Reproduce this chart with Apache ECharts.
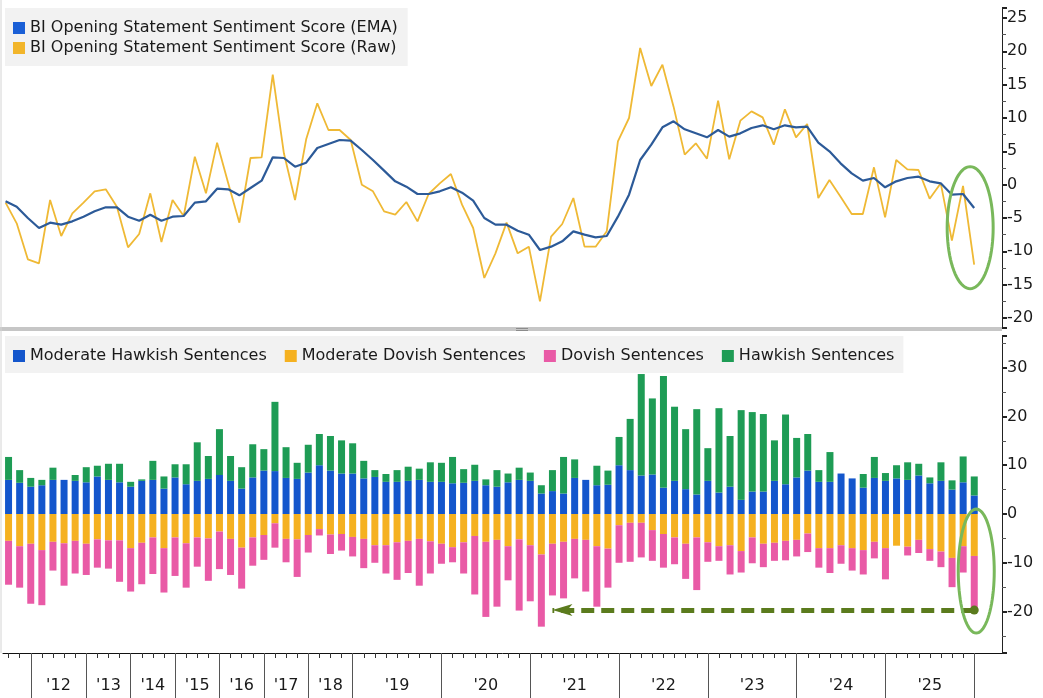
<!DOCTYPE html>
<html>
<head>
<meta charset="utf-8">
<title>BI Opening Statement Sentiment</title>
<script src="https://cdn.jsdelivr.net/npm/echarts@6.0.0/dist/echarts.min.js"></script>
<style>
  html, body { margin: 0; padding: 0; background: #fff; }
  #chart { width: 1043px; height: 698px; }
</style>
</head>
<body>
<div id="chart"></div>
<script>
// one entry per press-conference opening statement
const meetings = [
  '2011-06', '2011-11',
  '2012-01', '2012-04', '2012-06', '2012-09', '2012-12',
  '2013-03', '2013-06', '2013-09', '2013-12',
  '2014-03', '2014-06', '2014-09', '2014-12',
  '2015-03', '2015-06', '2015-09', '2015-12',
  '2016-03', '2016-06', '2016-09', '2016-12',
  '2017-03', '2017-06', '2017-09', '2017-12',
  '2018-03', '2018-06', '2018-09', '2018-12',
  '2019-01', '2019-03', '2019-05', '2019-06', '2019-07', '2019-09', '2019-10', '2019-12',
  '2020-01', '2020-03', '2020-04', '2020-06', '2020-07', '2020-09', '2020-11', '2020-12',
  '2021-01', '2021-03', '2021-04', '2021-06', '2021-07', '2021-09', '2021-11', '2021-12',
  '2022-01', '2022-03', '2022-05', '2022-06', '2022-07', '2022-09', '2022-11', '2022-12',
  '2023-02', '2023-03', '2023-05', '2023-06', '2023-07', '2023-09', '2023-11', '2023-12',
  '2024-01', '2024-03', '2024-05', '2024-06', '2024-07', '2024-09', '2024-11', '2024-12',
  '2025-01', '2025-03', '2025-05', '2025-06', '2025-07', '2025-09', '2025-10', '2025-12',
  '2026-01'
];

const emaScore = [
  -2.5, -3.3, -5.0, -6.5, -5.7, -6.0, -5.5, -4.8, -4.0, -3.4,
  -3.4, -4.8, -5.4, -4.5, -5.4, -4.8, -4.7, -2.7, -2.5, -0.6,
  -0.7, -1.6, -0.5, 0.6, 4.1, 4.0, 2.7, 3.3, 5.5, 6.1,
  6.7, 6.6, 5.2, 3.7, 2.1, 0.5, -0.3, -1.4, -1.4, -1.0,
  -0.4, -1.2, -2.4, -5.0, -6.0, -6.0, -6.9, -7.5, -9.8, -9.3,
  -8.5, -7.0, -7.5, -7.9, -7.7, -4.8, -1.5, 3.7, 6.0, 8.6,
  9.5, 8.3, 7.7, 7.1, 8.2, 7.2, 7.7, 8.5, 8.9, 8.3,
  8.9, 8.6, 8.7, 6.3, 5.0, 3.2, 1.7, 0.6, 1.0, -0.4,
  0.5, 1.0, 1.2, 0.5, 0.2, -1.5, -1.4, -3.5
];

const rawScore = [
  -2.7, -5.8, -11.2, -11.8, -2.3, -7.7, -4.3, -2.7, -1.0, -0.7,
  -3.3, -9.4, -7.4, -1.3, -8.6, -2.3, -4.7, 4.2, -1.3, 6.3,
  0.2, -5.7, 4.0, 4.1, 16.5, 4.7, -2.3, 6.8, 12.2, 8.2,
  8.2, 6.7, 0.0, -1.0, -4.0, -4.5, -2.6, -5.5, -1.4, 0.2,
  1.6, -3.0, -6.5, -14.0, -10.3, -5.7, -10.3, -9.3, -17.5, -7.8,
  -5.9, -2.0, -9.3, -9.3, -7.0, 6.5, 10.0, 20.5, 14.8, 18.0,
  11.7, 4.5, 6.2, 3.9, 12.6, 3.8, 9.6, 11.0, 10.1, 6.0,
  11.3, 7.1, 9.1, -2.0, 0.7, -1.8, -4.4, -4.4, 2.6, -4.9,
  3.7, 2.3, 2.2, -2.1, 0.2, -8.4, -0.2, -12.0
];

const moderateHawkish = [
  7.0, 6.4, 5.6, 5.9, 7.0, 7.0, 6.8, 6.5, 7.7, 7.0,
  6.5, 5.6, 6.8, 7.0, 5.2, 7.5, 6.1, 6.8, 7.2, 8.0,
  6.8, 5.2, 7.5, 8.9, 8.8, 7.4, 7.2, 8.5, 10.0, 8.9,
  8.3, 8.3, 7.3, 7.6, 6.6, 6.6, 6.8, 7.0, 6.6, 6.6,
  6.3, 6.4, 6.8, 5.9, 5.6, 6.5, 7.0, 6.8, 4.2, 4.7,
  4.2, 7.4, 7.0, 5.9, 6.0, 10.0, 9.0, 7.9, 8.1, 5.4,
  6.8, 5.1, 4.0, 6.8, 4.4, 5.6, 2.9, 4.6, 4.6, 6.8,
  6.1, 7.5, 8.9, 6.6, 6.6, 8.3, 7.3, 5.4, 7.4, 6.8,
  7.3, 7.0, 7.9, 6.3, 6.8, 5.0, 6.5, 3.8
];

const moderateDovish = [
  -5.5, -6.6, -6.1, -7.4, -5.7, -6.0, -5.5, -6.1, -5.2, -5.4,
  -5.4, -7.0, -5.9, -4.8, -7.0, -4.8, -6.0, -4.8, -5.0, -3.6,
  -5.1, -6.9, -4.8, -4.3, -1.9, -5.1, -5.2, -4.3, -3.1, -4.2,
  -4.1, -4.7, -5.1, -6.4, -6.4, -5.8, -5.5, -5.1, -5.6, -6.1,
  -6.8, -5.8, -4.5, -5.7, -5.3, -6.6, -5.2, -6.4, -8.3, -6.1,
  -5.7, -5.1, -5.3, -6.6, -7.1, -2.3, -1.8, -1.8, -3.3, -4.1,
  -4.8, -6.1, -4.8, -5.8, -6.6, -6.4, -7.6, -4.8, -6.1, -5.9,
  -5.5, -5.3, -4.0, -7.0, -7.0, -6.4, -7.0, -7.4, -5.7, -7.0,
  -6.5, -6.7, -5.3, -7.2, -7.7, -9.0, -6.6, -8.6
];

const dovish = [
  -9.0, -8.5, -12.3, -11.3, -5.9, -8.7, -6.7, -6.4, -5.8, -5.8,
  -8.5, -8.9, -8.5, -7.5, -9.1, -7.9, -9.1, -6.0, -8.7, -7.7,
  -7.4, -8.4, -5.8, -5.1, -5.0, -4.8, -7.7, -3.6, -1.3, -4.0,
  -3.4, -4.0, -6.0, -3.6, -5.8, -7.7, -6.6, -9.6, -6.6, -4.1,
  -3.1, -6.4, -12.0, -15.4, -13.7, -7.0, -14.6, -11.5, -14.8, -10.6,
  -11.6, -8.1, -10.6, -12.4, -8.0, -7.7, -8.0, -7.1, -6.3, -6.9,
  -5.5, -7.2, -10.8, -4.0, -3.0, -6.0, -4.4, -5.3, -4.8, -3.7,
  -4.0, -3.4, -3.8, -4.0, -5.1, -3.8, -4.6, -5.0, -3.4, -6.4,
  0, -1.8, -2.7, -2.4, -3.2, -6.0, -5.4, -11.1
];

const hawkish = [
  4.7, 2.6, 1.8, 1.1, 2.5, 0, 1.2, 3.1, 2.2, 3.3,
  3.8, 1.0, 0.3, 3.9, 2.5, 2.7, 4.1, 7.9, 4.7, 9.4,
  5.1, 4.4, 6.8, 4.4, 14.2, 6.3, 3.3, 5.7, 6.4, 7.1,
  6.8, 6.2, 3.6, 1.4, 1.6, 2.4, 2.9, 2.3, 4.0, 3.9,
  5.4, 2.8, 3.3, 1.2, 3.4, 1.8, 2.5, 1.7, 1.7, 4.3,
  7.5, 3.8, 0, 4.0, 2.9, 5.8, 10.5, 20.8, 15.6, 22.9,
  15.2, 12.3, 17.5, 6.7, 17.3, 10.4, 18.4, 16.3, 15.9, 8.3,
  14.3, 8.1, 7.5, 2.4, 6.1, 0, 0, 2.8, 4.3, 1.6,
  2.7, 3.6, 2.4, 1.2, 3.8, 1.9, 5.3, 3.9
];

// the arrow points back to this meeting
const arrowTarget = 49;

const FONT = 'DejaVu Sans';
const TEXT = '#1a1a1a';
const EMA_NAME = 'BI Opening Statement Sentiment Score (EMA)';
const RAW_NAME = 'BI Opening Statement Sentiment Score (Raw)';
const colors = {
  ema: '#2c5a98', raw: '#efb935',
  modHawk: '#1456cc', modDove: '#f5b120', dove: '#e95aa6', hawk: '#1e9c55'
};

// index where each new calendar year begins, and a label centred on each full year
const yearStarts = [];
meetings.forEach((m, i) => {
  if (i > 0 && m.slice(0, 4) !== meetings[i - 1].slice(0, 4)) yearStarts.push(i);
});
const yearLabels = {};
for (let k = 0; k < yearStarts.length - 1; k++) {
  yearLabels[(yearStarts[k] + yearStarts[k + 1]) / 2] = "'" + meetings[yearStarts[k]].slice(2, 4);
}
// two empty slots keep a bit of room before the right axis
const slots = meetings.concat(['', '']);
const last = meetings.length - 1;
const lowPoint = +(moderateDovish[last] + dovish[last]).toFixed(1);

function rightAxis(gridIndex, min, max, splitNumber) {
  return {
    type: 'value', gridIndex: gridIndex, position: 'right',
    min: min, max: max, splitNumber: splitNumber,
    axisLine: { show: true, onZero: false, lineStyle: { color: '#222', width: 1 } },
    axisTick: { show: true, length: 5, lineStyle: { color: '#222', width: 2 } },
    minorTick: { show: true, splitNumber: 2, length: 4, lineStyle: { color: '#555' } },
    axisLabel: {
      color: TEXT, fontFamily: FONT, fontSize: 16, margin: 5,
      showMinLabel: false, showMaxLabel: false
    },
    splitLine: { show: false }
  };
}

function barSeries(name, data, color) {
  return {
    name: name, type: 'bar', stack: 'sentences',
    xAxisIndex: 1, yAxisIndex: 1,
    barWidth: 7, data: data,
    itemStyle: { color: color }
  };
}

const legendText = { color: TEXT, fontFamily: FONT, fontSize: 16 };

const chart = echarts.init(document.getElementById('chart'));
chart.setOption({
  animation: false,
  textStyle: { fontFamily: FONT },
  grid: [
    { left: 0, top: 8, width: 1002, height: 320 },
    { left: 0, top: 336, width: 1002, height: 317 }
  ],
  legend: [
    {
      data: [
        { name: EMA_NAME, itemStyle: { color: '#1a5fd6' } },
        { name: RAW_NAME, itemStyle: { color: '#f2b52a' } }
      ],
      orient: 'vertical', left: 5, top: 8,
      padding: [12, 10, 10, 8], itemGap: 4,
      itemWidth: 12, itemHeight: 12, icon: 'rect',
      backgroundColor: '#f2f2f2', selectedMode: false,
      textStyle: legendText
    },
    {
      data: ['Moderate Hawkish Sentences', 'Moderate Dovish Sentences', 'Dovish Sentences', 'Hawkish Sentences'],
      orient: 'horizontal', left: 5, top: 336,
      padding: [12, 9, 9, 8], itemGap: 18,
      itemWidth: 12, itemHeight: 12, icon: 'rect',
      backgroundColor: '#f2f2f2', selectedMode: false,
      textStyle: legendText
    }
  ],
  xAxis: [
    { type: 'category', gridIndex: 0, data: slots, show: false },
    {
      type: 'category', gridIndex: 1, data: slots, position: 'bottom', offset: 0,
      axisLine: { show: true, onZero: false, lineStyle: { color: '#111', width: 1 } },
      axisTick: {
        show: true, alignWithLabel: true, length: 5,
        interval: (i) => i < meetings.length,
        lineStyle: { color: '#333' }
      },
      axisLabel: { show: false }
    },
    {
      type: 'category', gridIndex: 1, data: slots, position: 'bottom', offset: 0,
      axisLine: { show: false, onZero: false },
      axisTick: {
        show: true, alignWithLabel: true, length: 45,
        interval: (i) => yearStarts.indexOf(i) > -1,
        lineStyle: { color: '#555' }
      },
      axisLabel: { show: false }
    },
    {
      type: 'value', gridIndex: 1, position: 'bottom', offset: 0,
      min: -0.5, max: slots.length - 0.5, interval: 0.5,
      axisLine: { show: false, onZero: false },
      axisTick: { show: false },
      splitLine: { show: false },
      axisLabel: {
        color: TEXT, fontFamily: FONT, fontSize: 16, margin: 25,
        formatter: (v) => yearLabels[Math.round(v * 2) / 2] || ''
      }
    }
  ],
  yAxis: [
    rightAxis(0, -21.5, 26.5, 10),
    rightAxis(1, -28.5, 36.5, 6)
  ],
  series: [
    {
      name: EMA_NAME, type: 'line', xAxisIndex: 0, yAxisIndex: 0,
      data: emaScore, symbol: 'none', color: colors.ema,
      lineStyle: { width: 2.2 }, z: 4
    },
    {
      name: RAW_NAME, type: 'line', xAxisIndex: 0, yAxisIndex: 0,
      data: rawScore, symbol: 'none', color: colors.raw,
      lineStyle: { width: 1.8 }, z: 3
    },
    barSeries('Moderate Hawkish Sentences', moderateHawkish, colors.modHawk),
    barSeries('Moderate Dovish Sentences', moderateDovish, colors.modDove),
    barSeries('Dovish Sentences', dovish, colors.dove),
    barSeries('Hawkish Sentences', hawkish, colors.hawk),
    {
      type: 'line', xAxisIndex: 1, yAxisIndex: 1, data: [], silent: true,
      markLine: {
        silent: true, animation: false,
        symbol: ['circle', 'arrow'], symbolSize: [9, 20],
        lineStyle: { color: '#5b7b1d', width: 5, type: [13, 7], opacity: 1 },
        label: { show: false },
        emphasis: { disabled: true },
        data: [[
          { coord: [meetings[last], lowPoint] },
          { coord: [meetings[arrowTarget], lowPoint] }
        ]]
      }
    }
  ]
});

function ellipsePoints(cx, cy, rx, ry) {
  const pts = [];
  for (let k = 0; k < 80; k++) {
    const t = k / 80 * Math.PI * 2;
    pts.push([cx + rx * Math.cos(t), cy + ry * Math.sin(t)]);
  }
  return pts;
}

// green rings round the latest reading, plus the panel divider
const topEnd = chart.convertToPixel({ xAxisIndex: 0, yAxisIndex: 0 }, [meetings[last], rawScore[last]]);
const lowEnd = chart.convertToPixel({ xAxisIndex: 1, yAxisIndex: 1 }, [meetings[last], lowPoint]);
const ring = { fill: 'none', stroke: '#79b85b', lineWidth: 3 };

chart.setOption({
  graphic: [
    { type: 'rect', shape: { x: 0, y: 327, width: 1002, height: 4 }, style: { fill: '#c6c6c6' }, silent: true },
    { type: 'rect', shape: { x: 516, y: 328, width: 12, height: 1 }, style: { fill: '#8c8c8c' }, silent: true },
    { type: 'rect', shape: { x: 516, y: 330, width: 12, height: 1 }, style: { fill: '#8c8c8c' }, silent: true },
    { type: 'line', shape: { x1: 1, y1: 0, x2: 1, y2: 653 }, style: { stroke: '#d4d4d4', lineWidth: 1 }, silent: true },
    {
      type: 'polygon', silent: true, z: 100,
      shape: { points: ellipsePoints(topEnd[0] - 4, topEnd[1] - 37, 23, 61) },
      style: ring
    },
    {
      type: 'polygon', silent: true, z: 100,
      shape: { points: ellipsePoints(lowEnd[0] + 2, lowEnd[1] - 39, 18, 62) },
      style: ring
    }
  ]
});
</script>
</body>
</html>
